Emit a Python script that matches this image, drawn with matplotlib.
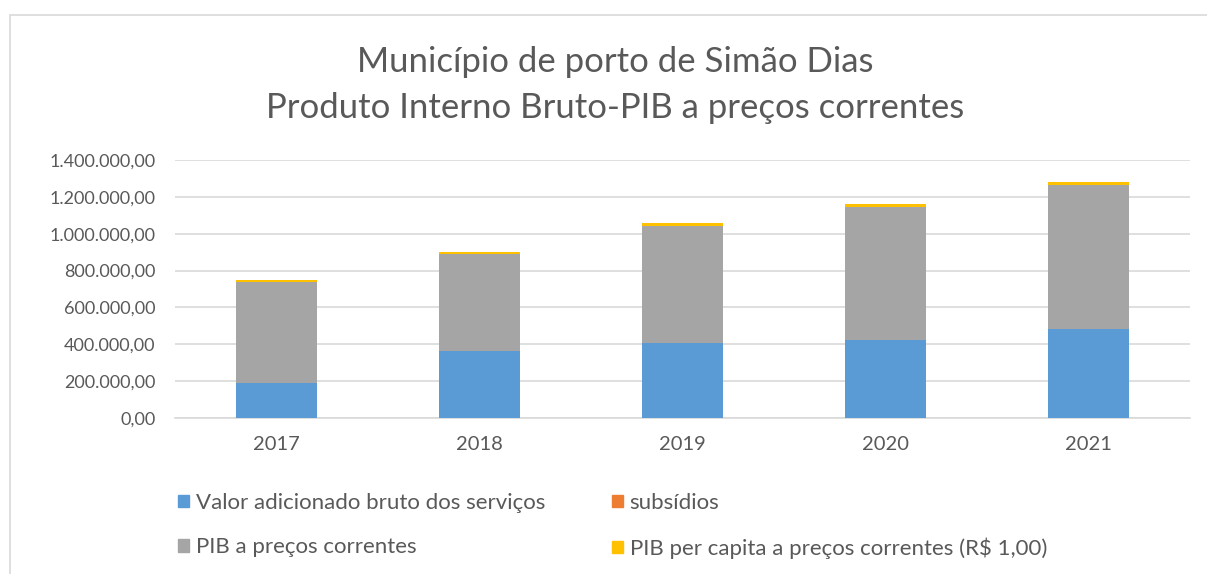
import numpy as np
import matplotlib
matplotlib.use("Agg")
import matplotlib.pyplot as plt
from matplotlib.patches import Rectangle, Patch
from matplotlib.ticker import FuncFormatter

plt.rcParams['font.family'] = ['Lato', 'DejaVu Sans']

# values (R$ 1.000)
anos = ['2017', '2018', '2019', '2020', '2021']
servicos = [190000, 363000, 406000, 423000, 482000]
subsidios = [1500, 1500, 1500, 1500, 1500]
pib = [545000, 524000, 636000, 722000, 781000]
pib_per_capita = [11500, 12000, 13500, 14000, 15500]

series = [
    ('Valor adicionado bruto dos serviços', servicos, '#5B9BD5'),
    ('subsídios', subsidios, '#ED7D31'),
    ('PIB a preços correntes', pib, '#A5A5A5'),
    ('PIB per capita a preços correntes (R$ 1,00)', pib_per_capita, '#FFC000'),
]

txt = '#595959'
W, H = 1207, 574
fig = plt.figure(figsize=(W / 100, H / 100), dpi=100)

# chart frame
fig.patches.append(Rectangle((10 / W, -0.1), 1.2, 1 - 15 / H + 0.1,
                             transform=fig.transFigure, fill=False,
                             edgecolor='#d9d9d9', linewidth=1.2))

ax = fig.add_axes([175 / W, 1 - 418 / H, (1190 - 175) / W, (418 - 160) / H])

x = np.arange(len(anos))
base = np.zeros(len(anos))
for nome, vals, cor in series:
    ax.bar(x, vals, width=0.4, bottom=base, color=cor, label=nome, zorder=3)
    base += np.array(vals)

ax.set_xlim(-0.5, len(anos) - 0.5)
ax.set_ylim(0, 1400000)
ax.set_yticks(np.arange(0, 1400001, 200000))


def fmt_br(v, pos):
    s = f'{v:,.2f}'
    return s.replace(',', 'X').replace('.', ',').replace('X', '.')


ax.yaxis.set_major_formatter(FuncFormatter(fmt_br))
ax.set_xticks(x)
ax.set_xticklabels(anos)
ax.grid(axis='y', color='#d9d9d9', linewidth=1.2, zorder=0)
for s in ['top', 'right', 'left']:
    ax.spines[s].set_visible(False)
ax.spines['bottom'].set_color('#d9d9d9')
ax.spines['bottom'].set_linewidth(1.2)
ax.tick_params(length=0, labelcolor=txt)
ax.tick_params(axis='x', pad=13, labelsize=14.5)
ax.tick_params(axis='y', pad=14, labelsize=13)

fig.text(615 / W, 1 - 62 / H, 'Município de porto de Simão Dias',
         ha='center', va='center', fontsize=25, color=txt)
fig.text(615 / W, 1 - 108 / H, 'Produto Interno Bruto-PIB a preços correntes',
         ha='center', va='center', fontsize=25, color=txt)

handles = [Patch(color=c) for _, _, c in series]
labels = [n for n, _, _ in series]
order = [0, 2, 1, 3]
fig.legend([handles[i] for i in order], [labels[i] for i in order],
           ncol=2, loc='upper left', bbox_to_anchor=(178 / W, 1 - 493 / H),
           borderpad=0, borderaxespad=0,
           frameon=False, fontsize=16, labelcolor=txt,
           handlelength=0.5, handleheight=0.5, handletextpad=0.3,
           columnspacing=3.0, labelspacing=1.1)

fig.savefig('out.png', dpi=100)
